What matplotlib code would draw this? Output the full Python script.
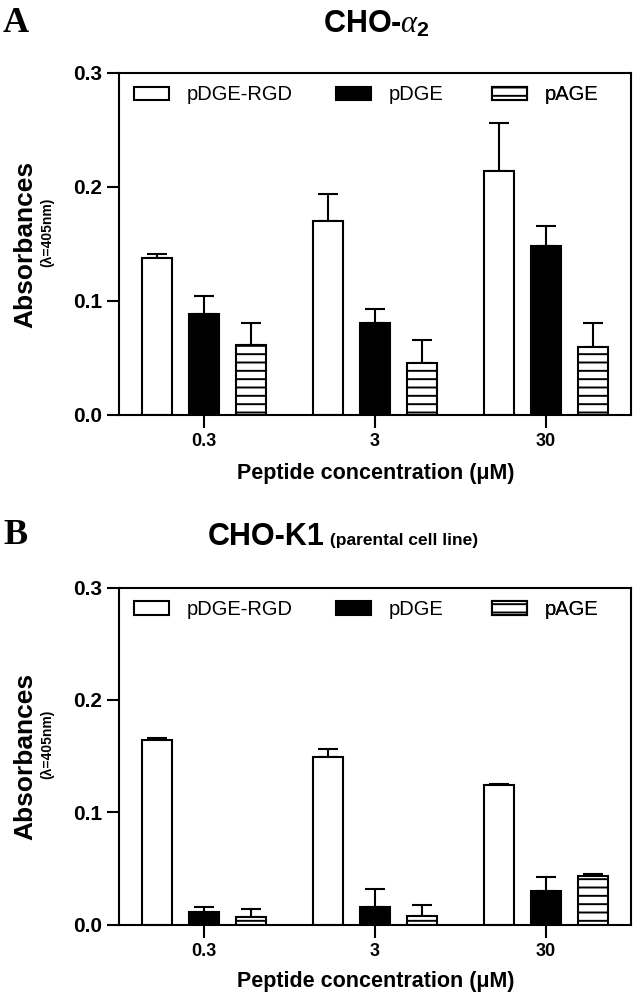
import matplotlib
matplotlib.use("Agg")
import matplotlib.pyplot as plt
import numpy as np

plt.rcParams['font.family'] = ['Liberation Sans', 'DejaVu Sans']
plt.rcParams['mathtext.fontset'] = 'custom'
plt.rcParams['mathtext.rm'] = 'Liberation Sans:bold'
plt.rcParams['mathtext.bf'] = 'Liberation Sans:bold'
plt.rcParams['mathtext.it'] = 'Liberation Serif:italic'
plt.rcParams['hatch.linewidth'] = 1.4

# ---------------- data ----------------
concentrations = ["0.3", "3", "30"]
series = ["pDGE-RGD", "pDGE", "pAGE"]

# Panel A: CHO-alpha2
a_rgd = [0.138, 0.170, 0.214]
a_rgd_err = [0.003, 0.024, 0.042]
a_dge = [0.089, 0.081, 0.148]
a_dge_err = [0.015, 0.012, 0.018]
a_age = [0.061, 0.046, 0.060]
a_age_err = [0.020, 0.020, 0.021]

# Panel B: CHO-K1
b_rgd = [0.164, 0.149, 0.124]
b_rgd_err = [0.002, 0.007, 0.001]
b_dge = [0.011, 0.016, 0.030]
b_dge_err = [0.005, 0.016, 0.012]
b_age = [0.007, 0.008, 0.043]
b_age_err = [0.007, 0.009, 0.002]

yticks = [0.0, 0.1, 0.2, 0.3]

W, H = 633, 994
fig = plt.figure(figsize=(W / 100, H / 100), dpi=100)


def fx(px):
    return px / W


def fy(py):
    return 1 - py / H


def panel(ax, top_px, rgd, rgd_e, dge, dge_e, age, age_e):
    x = np.arange(len(concentrations))
    off = 0.275
    bw = 0.175
    styles = [
        dict(color='white', hatch=None),
        dict(color='black', hatch=None),
        dict(color='white', hatch='--'),
    ]
    vals = [(rgd, rgd_e), (dge, dge_e), (age, age_e)]
    handles = []
    for i, ((v, e), st) in enumerate(zip(vals, styles)):
        xi = x + (i - 1) * off
        ax.errorbar(xi, v, yerr=[np.zeros(len(v)), e], fmt='none',
                    ecolor='black', elinewidth=1.5, capsize=7, capthick=1.5,
                    zorder=1)
        b = ax.bar(xi, v, width=bw, facecolor=st['color'], edgecolor='black',
                   linewidth=1.5, hatch=st['hatch'], label=series[i],
                   zorder=2)
        handles.append(b)
    ax.set_xlim(-0.5, 2.5)
    ax.set_ylim(0, 0.3)
    ax.set_xticks(x)
    ax.set_xticklabels(concentrations, fontsize=13, fontweight='bold')
    ax.set_yticks(yticks)
    ax.set_yticklabels([f"{t:.1f}" for t in yticks], fontsize=15,
                       fontweight='bold')
    ax.tick_params(axis='both', direction='out', length=9, width=1.5,
                   pad=4)
    ax.tick_params(axis='y', pad=3)
    for s in ax.spines.values():
        s.set_linewidth(1.5)
    # legend entries placed individually
    lx = [134, 336, 492]
    y_leg = top_px + 22
    for i in range(3):
        leg = ax.legend([handles[i]], [series[i]], loc='center left',
                        bbox_to_anchor=(fx(lx[i]), fy(y_leg)),
                        bbox_transform=fig.transFigure,
                        frameon=False, fontsize=14.5, handlelength=1.75,
                        handleheight=0.65, handletextpad=0.85,
                        borderpad=0, borderaxespad=0)
        ax.add_artist(leg)


# Panel A axes
axA = fig.add_axes([fx(119), fy(415), fx(631) - fx(119), fy(73) - fy(415)])
panel(axA, 73, a_rgd, a_rgd_err, a_dge, a_dge_err, a_age, a_age_err)
# Panel B axes
axB = fig.add_axes([fx(119), fy(924.5), fx(631) - fx(119),
                    fy(587.7) - fy(924.5)])
panel(axB, 587.7, b_rgd, b_rgd_err, b_dge, b_dge_err, b_age, b_age_err)

for ax, ycen, yxl in [(axA, 244, 474), (axB, 756, 981)]:
    fig.text(fx(25), fy(ycen), "Absorbances", rotation=90, ha='center',
             va='center', fontsize=19, fontweight='bold')
    fig.text(fx(47), fy(ycen - 12), "(λ=405nm)", rotation=90, ha='center',
             va='center', fontsize=10, fontweight='bold')
    fig.text(fx(376), fy(yxl), "Peptide concentration (μM)", ha='center',
             va='center', fontsize=15.5, fontweight='bold')

# Panel letters
fig.text(fx(3), fy(23), "A", fontsize=26, fontweight='bold',
         family='Liberation Serif', ha='left', va='center')
fig.text(fx(3), fy(535), "B", fontsize=26, fontweight='bold',
         family='Liberation Serif', ha='left', va='center')

# Titles
fig.text(fx(376), fy(24), r"CHO-$\alpha_2$", fontsize=22,
         fontweight='bold', ha='center', va='center')

renderer = fig.canvas.get_renderer()
t1 = fig.text(fx(208), fy(537), "CHO-K1", fontsize=22, fontweight='bold',
              ha='left', va='center')
w1 = t1.get_window_extent(renderer).width
t2 = fig.text(fx(208 + w1), fy(540), " (parental cell line)", fontsize=12.5,
              fontweight='bold', ha='left', va='center')

fig.savefig("out.png", dpi=100)
